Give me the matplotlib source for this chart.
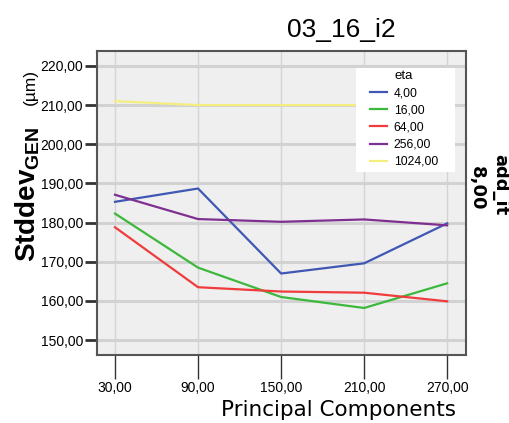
import matplotlib
matplotlib.use("Agg")
import matplotlib.pyplot as plt
from matplotlib.patches import Rectangle

components = [30, 90, 150, 210, 270]
eta_labels = ["4,00", "16,00", "64,00", "256,00", "1024,00"]
eta_4 = [185.3, 188.7, 167.0, 169.6, 179.8]
eta_16 = [182.3, 168.5, 161.0, 158.2, 164.5]
eta_64 = [178.8, 163.5, 162.4, 162.1, 159.9]
eta_256 = [187.1, 180.9, 180.2, 180.8, 179.3]
eta_1024 = [211.0, 210.0, 210.0, 210.0, 210.0]
yticks = [150, 160, 170, 180, 190, 200, 210, 220]

colors = ["#4058b4", "#3cb83c", "#f03c3c", "#7e3090", "#f4ee80"]
series = [eta_4, eta_16, eta_64, eta_256, eta_1024]

plt.rcParams["mathtext.fontset"] = "custom"
plt.rcParams["mathtext.rm"] = "Liberation Sans"
plt.rcParams["mathtext.bf"] = "Liberation Sans:bold"
arial = "Liberation Sans"

fig = plt.figure(figsize=(5.09, 4.23), dpi=100)
ax = fig.add_axes([0.1906, 0.1608, 0.7249, 0.7186])
ax.set_facecolor("#efefef")

for vals, lab, c in zip(series, eta_labels, colors):
    ax.plot(components, vals, color=c, lw=1.6, label=lab, zorder=3)

ax.set_xlim(17, 283.6)
ax.set_ylim(146.2, 223.8)
ax.set_xticks(components)
ax.set_xticklabels([f"{v},00" for v in components], family=arial, fontsize=10)
ax.set_yticks(yticks)
ax.set_yticklabels([f"{v},00" for v in yticks], family=arial, fontsize=10)
ax.grid(axis="y", color="#d2d2d2", lw=2.2, zorder=1)
ax.grid(axis="x", color="#d4d4d4", lw=1.0, zorder=1)
ax.set_axisbelow(True)
ax.tick_params(axis="y", length=9, width=2, color="#333333", pad=1)
ax.tick_params(axis="x", length=17, width=1, color="#333333", pad=2)
for s in ax.spines.values():
    s.set_color("#555555")
    s.set_linewidth(1.5)

# white legend box drawn separately (wider padding than matplotlib's frame)
ax.add_patch(Rectangle((0.702, 0.602), 0.268, 0.342, transform=ax.transAxes,
                       facecolor="white", edgecolor="none", zorder=4))
leg = ax.legend(title="eta", loc="upper right", bbox_to_anchor=(0.924, 0.936),
                frameon=False, prop={"family": arial, "size": 8.7},
                title_fontproperties={"family": arial, "size": 9.5},
                handlelength=1.4, borderpad=0, labelspacing=0.42,
                handletextpad=0.55, borderaxespad=0)
leg.set_zorder(5)

fig.text(0.670, 0.929, "03_16_i2", family=arial, fontsize=19, ha="center", va="center")
fig.text(0.666, 0.031, "Principal Components", family="DejaVu Sans", fontsize=15.5,
         ha="center", va="center")
fig.text(0.055, 0.381, r"$\mathbf{Stddev}_{\mathbf{GEN}}$", fontsize=20,
         rotation=90, ha="center", va="bottom")
fig.text(0.059, 0.752, "(µm)", fontsize=12.5, rotation=90, ha="center", va="bottom",
         family=arial)
fig.text(0.982, 0.563, "add_it", fontsize=13, fontweight="bold", rotation=-90,
         ha="center", va="center", family="DejaVu Sans")
fig.text(0.936, 0.555, "8,00", fontsize=13, fontweight="bold", rotation=-90,
         ha="center", va="center", family="DejaVu Sans")

fig.savefig("out.png", dpi=100)
